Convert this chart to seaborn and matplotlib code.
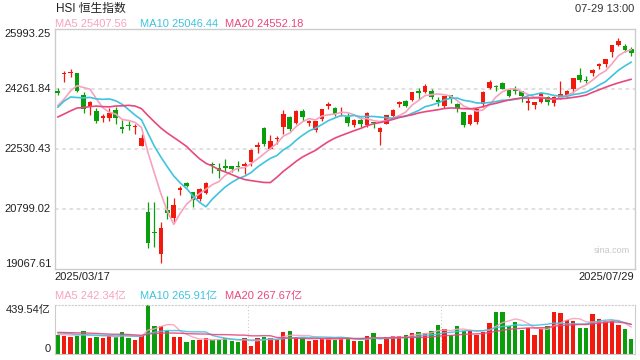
import numpy as np
import pandas as pd
import matplotlib
matplotlib.use("Agg")
import matplotlib.pyplot as plt
import seaborn as sns

# HSI daily candles, 2025/03/17 .. 2025/07/29 (90 sessions)
opens = [24210, 24690, 24740, 24723, 24097, 23745, 23636, 23440, 23420, 23665,
         23182, 23230, 23170, 22634, 20712, 20147, 19497, 20770, 20557, 21365,
         21572, 21307, 21087, 21278, 22110, 22000, 22038, 22038, 22060, 22060,
         22172, 22600, 23141, 22550, 22820, 23182, 23453, 23303, 23635, 23290,
         23087, 23393, 23780, 23714, 23570, 23471, 23222, 23376, 23232, 23318,
         23030, 23260, 23482, 23850, 23925, 23953, 24212, 24175, 24221, 23953,
         23780, 24097, 23829, 23615, 23260, 23327, 23837, 24290, 24360, 24455,
         24242, 24262, 24213, 23876, 23800, 23904, 24050, 23857, 24002, 24069,
         24271, 24674, 24530, 24722, 24943, 24992, 25330, 25540, 25520, 25425]
highs = [24300, 24790, 24850, 24740, 24192, 23935, 23714, 23540, 23714, 23760,
         23376, 23350, 23252, 22972, 21018, 21000, 20420, 21183, 21116, 21471,
         21600, 21307, 21405, 21578, 22170, 22144, 22253, 22038, 22182, 22150,
         22530, 22732, 23183, 22946, 22900, 23664, 23491, 23660, 23693, 23390,
         23340, 23700, 23886, 23760, 23742, 23569, 23405, 23453, 23598, 23318,
         23165, 23530, 23685, 23930, 23943, 24190, 24290, 24414, 24270, 24050,
         24070, 24097, 23875, 23615, 23540, 23700, 24212, 24530, 24400, 24480,
         24250, 24360, 24213, 24050, 23904, 24150, 24078, 24069, 24511, 24242,
         24600, 24867, 24645, 24840, 25030, 25140, 25545, 25732, 25569, 25474]
lows = [24110, 24460, 24625, 24180, 23569, 23520, 23298, 23326, 23347, 23252,
        22992, 23085, 22972, 22625, 19690, 19700, 19236, 20509, 20420, 21212,
        21430, 20856, 21030, 21250, 21850, 21694, 21900, 21870, 21900, 21820,
        22048, 22432, 22634, 22530, 22683, 22972, 23066, 23260, 23356, 23202,
        23038, 23356, 23685, 23491, 23490, 23202, 23165, 23165, 23183, 23153,
        22654, 23250, 23470, 23741, 23760, 23924, 23973, 24146, 23982, 23780,
        23714, 23858, 23615, 23165, 23232, 23260, 23760, 24262, 24220, 24262,
        24050, 24130, 23904, 23664, 23694, 23880, 23809, 23789, 23995, 24050,
        24146, 24481, 24435, 24645, 24838, 24896, 25203, 25511, 25328, 25222]
closes = [24146, 24741, 24771, 24220, 23690, 23906, 23344, 23483, 23579, 23427,
          23120, 23207, 23203, 22850, 19828, 20128, 20264, 20682, 20915, 21417,
          21466, 21057, 21395, 21562, 22073, 21910, 21981, 21972, 22008, 22119,
          22505, 22663, 22692, 22776, 22868, 23549, 23108, 23641, 23453, 23345,
          23333, 23681, 23828, 23544, 23601, 23282, 23382, 23258, 23573, 23290,
          23158, 23512, 23654, 23907, 23793, 24181, 24163, 24367, 24035, 23893,
          24061, 23980, 23711, 23238, 23530, 23689, 24177, 24475, 24325, 24284,
          24073.2, 24221, 24070, 23916, 23888, 24148, 23892, 24028, 24140, 24203,
          24589.6, 24518, 24499, 24826, 24994, 25130, 25538, 25667, 25388, 25314.8]
# volume in 亿
volumes = [172, 166, 158, 166, 208, 146, 158, 146, 163, 158,
           199, 149, 128, 163, 439.54, 256, 253, 211, 158, 158,
           110, 128, 128, 149, 128, 128, 149, 119, 113, 149,
           77, 149, 158, 149, 128, 202, 208, 158, 143, 122,
           128, 143, 143, 128, 149, 143, 119, 119, 163, 193,
           95, 158, 163, 163, 172, 193, 202, 187, 208, 262,
           226, 172, 253, 211, 211, 172, 202, 282, 377, 377,
           251, 291, 217, 238, 172, 226, 256, 375, 364, 304.3,
           300, 238, 238, 360, 311.4, 294, 293, 258, 230, 136.7]
# sessions before 03/17, only used to seed the moving averages
prior_closes = [22976, 22944, 22576, 23477, 23341, 23034, 23787, 23718, 22941, 23006,
                22941, 23594, 24370, 23783, 23783, 23782, 23600, 23462, 23959]
prior_volumes = [190, 185, 200, 210, 195, 205, 220, 215, 190, 185,
                 195, 210, 230, 205, 185, 180, 175, 170, 190]

price_ticks = [19067.61, 20799.02, 22530.43, 24261.84, 25993.25]
vol_max = 439.54
first_date, last_date = "2025/03/17", "2025/07/29"

RED = "#f2190f"
GREEN = "#0a9e0c"
MA_COLORS = {5: "#f7a3bd", 10: "#3fc4df", 20: "#e8487e"}


def main():
    sns.set_theme(style="white")
    plt.rcParams['font.family'] = ['Liberation Sans', 'Noto Sans CJK SC', 'DejaVu Sans']

    n = len(closes)
    df = pd.DataFrame({'i': np.arange(n), 'open': opens, 'high': highs,
                       'low': lows, 'close': closes, 'vol': volumes})
    df['up'] = df['close'] >= df['open']
    all_c = pd.Series(prior_closes + closes)
    all_v = pd.Series(prior_volumes + volumes)
    for w in (5, 10, 20):
        df[f'ma{w}'] = all_c.rolling(w).mean().iloc[-n:].values
        df[f'vma{w}'] = all_v.rolling(w).mean().iloc[-n:].values

    W, H = 640, 360
    fig = plt.figure(figsize=(6.4, 3.6), dpi=100)
    ax = fig.add_axes([54.5 / W, 1 - 269.3 / H, 580 / W, 240 / H])
    axv = fig.add_axes([54.5 / W, 1 - 354.3 / H, 580 / W, 49.3 / H])

    # ---- price panel ----
    for y in price_ticks[1:-1]:
        ax.axhline(y, color="#dddddd", lw=1.3, ls=(0, (2, 2)), zorder=0)
    for _, r in df.iterrows():
        c = RED if r['up'] else GREEN
        ax.vlines(r['i'], r['low'], r['high'], color=c, lw=0.9, zorder=2)
        body = max(abs(r['close'] - r['open']), 18)
        ax.bar(r['i'], body, bottom=min(r['open'], r['close']), width=0.72,
               color=c, linewidth=0, zorder=3)
    for w in (5, 10, 20):
        sns.lineplot(x='i', y=f'ma{w}', data=df, ax=ax, color=MA_COLORS[w],
                     lw=1.2, zorder=4)
    ax.set_xlim(-0.5, n - 0.5)
    ax.set_ylim(price_ticks[0], price_ticks[-1])
    ax.set_xticks([])
    ax.set_yticks([])
    ax.set_xlabel("")
    ax.set_ylabel("")
    for s in ax.spines.values():
        s.set_color("#cccccc")
        s.set_linewidth(1)
    for k, y in enumerate(price_ticks):
        va = 'bottom' if k == 0 else ('top' if k == len(price_ticks) - 1 else 'center')
        ax.text(-0.006, y, f"{y:.2f}", transform=ax.get_yaxis_transform(),
                ha='right', va=va, fontsize=8, color="#222222")
    ax.text(0.992, 0.08, "sina.com", transform=ax.transAxes, ha='right',
            va='center', fontsize=6.5, color="#c8c8c8")

    # ---- volume panel ----
    sns.barplot(x='i', y='vol', data=df, ax=axv, hue='up',
                palette={True: RED, False: GREEN}, dodge=False, width=0.68,
                legend=False, linewidth=0, saturation=1)
    for w in (5, 10, 20):
        sns.lineplot(x='i', y=f'vma{w}', data=df, ax=axv, color=MA_COLORS[w],
                     lw=1.0, alpha=0.9, zorder=4)
    for xv in (n / 3 - 0.5, 2 * n / 3 - 0.5):
        axv.axvline(xv, color="#cccccc", lw=0.8, ls=(0, (1, 2)), zorder=0)
    axv.set_xlim(-0.5, n - 0.5)
    axv.set_ylim(0, vol_max)
    axv.set_xticks([])
    axv.set_yticks([])
    axv.set_xlabel("")
    axv.set_ylabel("")
    for s in axv.spines.values():
        s.set_color("#cccccc")
        s.set_linewidth(0.8)
    axv.spines['top'].set_linestyle((0, (1, 2)))
    axv.text(-0.006, vol_max, f"{vol_max:.2f}亿", transform=axv.get_yaxis_transform(),
             ha='right', va='top', fontsize=8, color="#222222")
    axv.text(-0.006, 0, "0", transform=axv.get_yaxis_transform(),
             ha='right', va='bottom', fontsize=8, color="#222222")

    # ---- header & labels ----
    fig.text(56 / W, 1 - 9 / H, "HSI 恒生指数", ha='left', va='center',
             fontsize=8.5, color="#222222")
    fig.text(634 / W, 1 - 9 / H, "07-29 13:00", ha='right', va='center',
             fontsize=8, color="#333333")
    last = df.iloc[-1]
    xs = [55, 140, 225]
    for x0, w in zip(xs, (5, 10, 20)):
        fig.text(x0 / W, 1 - 24 / H, f"MA{w} {last[f'ma{w}']:.2f}", ha='left',
                 va='center', fontsize=8, color=MA_COLORS[w])
        fig.text(x0 / W, 1 - 296 / H, f"MA{w} {last[f'vma{w}']:.2f}亿", ha='left',
                 va='center', fontsize=8, color=MA_COLORS[w])
    fig.text(54.5 / W, 1 - 277 / H, first_date, ha='left', va='center',
             fontsize=8, color="#222222")
    fig.text(634.5 / W, 1 - 277 / H, last_date, ha='right', va='center',
             fontsize=8, color="#222222")

    fig.savefig("out.png", dpi=100)
    plt.close(fig)


if __name__ == "__main__":
    main()
